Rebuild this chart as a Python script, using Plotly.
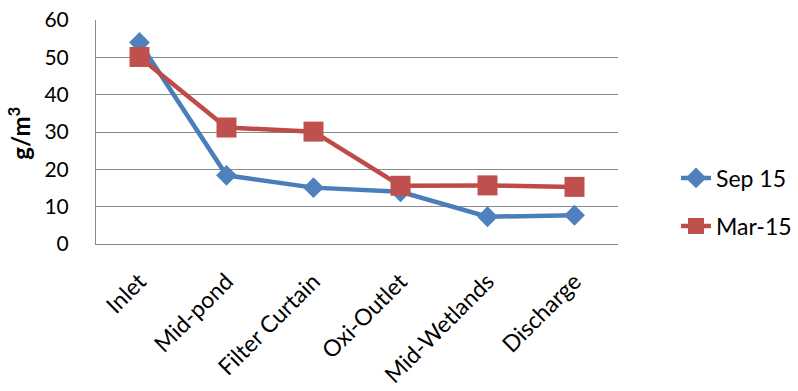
import plotly.graph_objects as go

categories = ["Inlet", "Mid-pond", "Filter Curtain", "Oxi-Outlet", "Mid-Wetlands", "Discharge"]
sep15 = [54.0, 18.4, 15.1, 14.0, 7.3, 7.7]
mar15 = [50.1, 31.2, 30.1, 15.6, 15.7, 15.3]
series_names = ["Sep 15", "Mar-15"]
y_ticks = [0, 10, 20, 30, 40, 50, 60]

W, H = 798, 391
L, R, T, B = 96, 618, 20, 244.5
FONT = "Lato, 'Open Sans', sans-serif"
GRID = "#8a8a8a"

fig = go.Figure()
fig.add_trace(go.Scatter(
    x=categories, y=sep15, name=series_names[0], mode="lines+markers",
    line=dict(color="#4A7EBB", width=4.5),
    marker=dict(symbol="diamond", size=16, color="#4F81BD", line=dict(width=0)),
    legend="legend",
))
fig.add_trace(go.Scatter(
    x=categories, y=mar15, name=series_names[1], mode="lines+markers",
    line=dict(color="#BE4B48", width=4.5),
    marker=dict(symbol="square", size=20, color="#C0504D", line=dict(width=0)),
    legend="legend2",
))

fig.update_layout(
    width=W, height=H,
    margin=dict(l=L, r=W - R, t=T, b=H - B, pad=0, autoexpand=False),
    paper_bgcolor="white", plot_bgcolor="white",
    font=dict(family=FONT, color="#000000", size=22),
    showlegend=True,
    legend=dict(xref="container", yref="container", x=676 / W, y=1 - 178 / H,
                xanchor="left", yanchor="middle", font=dict(size=23),
                bgcolor="rgba(0,0,0,0)"),
    legend2=dict(xref="container", yref="container", x=676 / W, y=1 - 226 / H,
                 xanchor="left", yanchor="middle", font=dict(size=23),
                 bgcolor="rgba(0,0,0,0)"),
)
fig.update_xaxes(
    type="category", categoryorder="array", categoryarray=categories,
    range=[-0.5, len(categories) - 0.5], automargin=False,
    showgrid=False, showline=True, linecolor=GRID, linewidth=1,
    ticks="", tickangle=-45, tickfont=dict(size=23), ticklabelstandoff=14,
    zeroline=False,
)
fig.update_yaxes(
    range=[0, 60], tickvals=y_ticks, showgrid=True, gridcolor=GRID, gridwidth=1,
    showline=True, linecolor=GRID, linewidth=1, ticks="", automargin=False,
    tickfont=dict(size=21), ticklabelstandoff=22, zeroline=False,
)
fig.add_annotation(
    text="<b>g/m<sup>3</sup></b>", textangle=-90, showarrow=False,
    xref="paper", yref="paper",
    x=(19 - L) / (R - L), y=(B - 134) / (B - T),
    xanchor="center", yanchor="middle", font=dict(size=24),
)

fig.write_html("out.html")
